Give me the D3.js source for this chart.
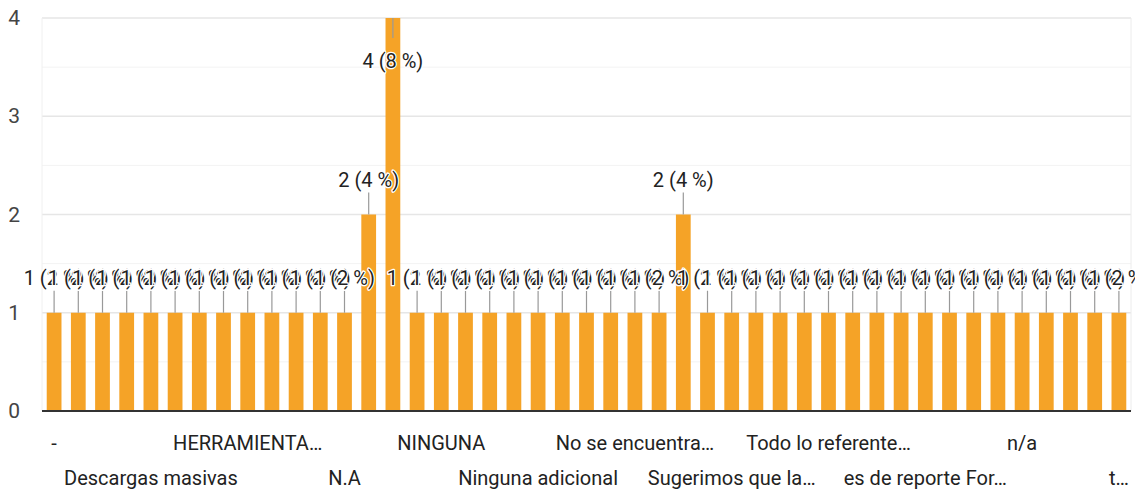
<!DOCTYPE html>
<html>
<head>
<meta charset="utf-8">
<script src="https://d3js.org/d3.v7.min.js"></script>
<style>
  body { margin: 0; background: #fff; }
  svg { display: block; font-family: Roboto, "Liberation Sans", sans-serif; }
</style>
</head>
<body>
<div class="chart"></div>
<script>
// answers (only every 4th name is readable in the picture)
var categories = [
  "-", "", "", "", "Descargas masivas", "", "", "", "HERRAMIENTA…", "", "", "",
  "N.A", "", "", "", "NINGUNA", "", "", "", "Ninguna adicional", "", "", "",
  "No se encuentra…", "", "", "", "Sugerimos que la…", "", "", "", "Todo lo referente…", "", "", "",
  "es de reporte For…", "", "", "", "n/a", "", "", "", "t…"
];
var values = [
  1, 1, 1, 1, 1, 1, 1, 1, 1, 1, 1, 1, 1, 2, 4, 1, 1, 1, 1, 1, 1, 1, 1,
  1, 1, 1, 2, 1, 1, 1, 1, 1, 1, 1, 1, 1, 1, 1, 1, 1, 1, 1, 1, 1, 1
];
var yTicks = [0, 1, 2, 3, 4];

var svgWidth = 1135, svgHeight = 493;
var margin = { top: 18, right: 4, bottom: 82, left: 42 };
var width = svgWidth - margin.left - margin.right;
var height = svgHeight - margin.top - margin.bottom;

var total = d3.sum(values);
var data = values.map(function(v, i) { return { i: i, name: categories[i], value: v }; });

var svg = d3.select(".chart").append("svg")
    .attr("width", svgWidth)
    .attr("height", svgHeight);

var chart = svg.append("g")
    .attr("transform", "translate(" + margin.left + "," + margin.top + ")");

var xScale = d3.scaleBand()
    .domain(data.map(function(d) { return d.i; }))
    .range([0, width])
    .paddingInner(0.39)
    .paddingOuter(0.195);

var yScale = d3.scaleLinear().domain([0, 4]).range([height, 0]);

// grid: light minor lines at halves, major at integers
var halves = [0.5, 1.5, 2.5, 3.5];
chart.selectAll(".minor").data(halves).enter().append("line")
    .attr("x1", 0).attr("x2", width)
    .attr("y1", function(d) { return yScale(d); })
    .attr("y2", function(d) { return yScale(d); })
    .attr("stroke", "#f3f3f3").attr("stroke-width", 1);

chart.selectAll(".major").data(yTicks.slice(1)).enter().append("line")
    .attr("x1", 0).attr("x2", width)
    .attr("y1", function(d) { return yScale(d); })
    .attr("y2", function(d) { return yScale(d); })
    .attr("stroke", "#e6e6e6").attr("stroke-width", 1.5);

chart.append("line").attr("x1", 0).attr("x2", 0).attr("y1", 0).attr("y2", height)
    .attr("stroke", "#f0f0f0");
chart.append("line").attr("x1", width).attr("x2", width).attr("y1", 0).attr("y2", height)
    .attr("stroke", "#ececec");

// y axis labels
var leftAxis = d3.axisLeft(yScale).tickValues(yTicks).tickFormat(d3.format("d"))
    .tickSize(0).tickPadding(22);
var yAxis = chart.append("g").attr("class", "y-axis").call(leftAxis);
yAxis.select(".domain").remove();
yAxis.selectAll("text")
    .style("font-size", "21px")
    .style("font-family", "Roboto, sans-serif")
    .attr("fill", "#444");

// bars
chart.selectAll("rect.bar").data(data).enter().append("rect")
    .attr("class", "bar")
    .attr("x", function(d) { return xScale(d.i); })
    .attr("y", function(d) { return yScale(d.value); })
    .attr("width", xScale.bandwidth())
    .attr("height", function(d) { return height - yScale(d.value); })
    .attr("fill", "#f5a327");

// baseline
chart.append("line").attr("x1", 0).attr("x2", width)
    .attr("y1", height).attr("y2", height)
    .attr("stroke", "#333").attr("stroke-width", 2);

// leader lines and value labels (label goes inside when bar hits the top)
function cx(d) { return xScale(d.i) + xScale.bandwidth() / 2; }
function inside(d) { return yScale(d.value) < 40; }

chart.selectAll("line.leader").data(data).enter().append("line")
    .attr("class", "leader")
    .attr("x1", cx).attr("x2", cx)
    .attr("y1", function(d) { return yScale(d.value); })
    .attr("y2", function(d) { return inside(d) ? yScale(d.value) + 20 : yScale(d.value) - 22; })
    .attr("stroke", "#999").attr("stroke-width", 1.2);

chart.selectAll("text.val").data(data).enter().append("text")
    .attr("class", "val")
    .attr("x", cx)
    .attr("y", function(d) { return inside(d) ? yScale(d.value) + 50 : yScale(d.value) - 28; })
    .attr("text-anchor", "middle")
    .style("font-size", "20px")
    .attr("fill", "#222")
    .attr("stroke", "#fff").attr("stroke-width", 2.5)
    .attr("stroke-linejoin", "round")
    .attr("paint-order", "stroke")
    .text(function(d) { return d.value + " (" + Math.round(d.value / total * 100) + " %)"; });

// category labels, every 4th, staggered over two rows
var labelled = data.filter(function(d) { return d.name !== ""; });
chart.selectAll("text.cat").data(labelled).enter().append("text")
    .attr("class", "cat")
    .attr("x", function(d) {
      var x = cx(d);
      return d.i === values.length - 1 ? width - 2 : x;
    })
    .attr("y", function(d, k) { return height + (k % 2 === 0 ? 39 : 74); })
    .attr("text-anchor", function(d) { return d.i === values.length - 1 ? "end" : "middle"; })
    .style("font-size", "20px")
    .attr("fill", "#222")
    .text(function(d) { return d.name; });
</script>
</body>
</html>
